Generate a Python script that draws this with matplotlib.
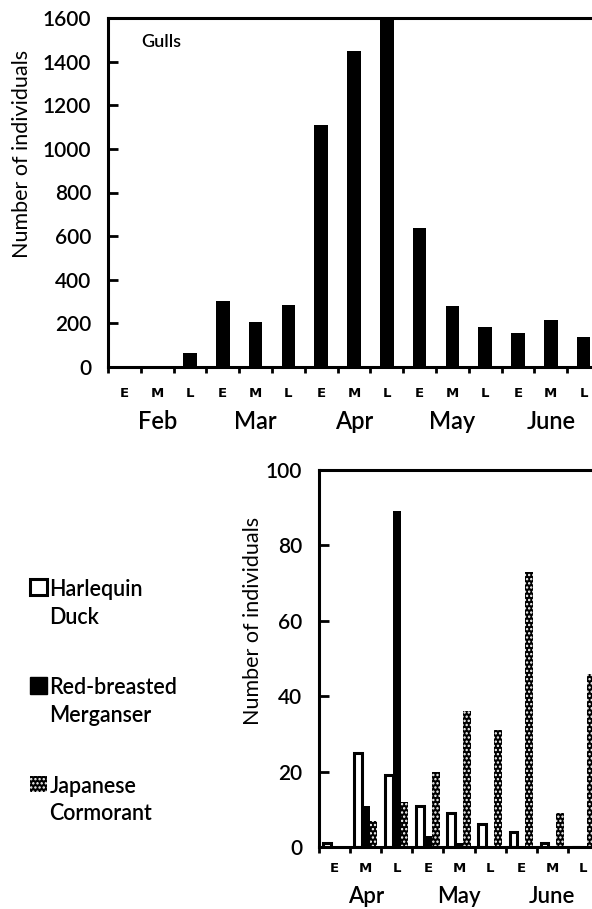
import matplotlib.pyplot as plt
from matplotlib.patches import Patch
import numpy as np

plt.rcParams['font.family'] = ['Lato', 'DejaVu Sans']
plt.rcParams['font.weight'] = 'semibold'
plt.rcParams['hatch.linewidth'] = 1.1

# top panel: gulls, early/mid/late of each month
periods = ['E', 'M', 'L']
gull_months = ['Feb', 'Mar', 'Apr', 'May', 'June']
gulls = [0, 0, 64, 303, 206, 284, 1108, 1448, 1600, 636, 280, 183, 155, 214, 137]

# bottom panel: sea ducks / cormorant
duck_months = ['Apr', 'May', 'June']
harlequin = [1, 25, 19, 11, 9, 6, 4, 1, 0]
merganser = [0, 11, 89, 3, 1, 0, 0, 0, 0]
cormorant = [0, 7, 12, 20, 36, 31, 73, 9, 46]

labels = ['Harlequin\nDuck', 'Red-breasted\nMerganser', 'Japanese\nCormorant']

W, H = 592, 909
fig = plt.figure(figsize=(W / 100, H / 100), dpi=100)


def frac(x0, y0, x1, y1):
    return [x0 / W, 1 - y1 / H, (x1 - x0) / W, (y1 - y0) / H]


def style_axes(ax, months, emL_off, mon_off, mon_size=17):
    n = len(months) * 3
    ax.set_xlim(0, n)
    for s in ['top', 'left', 'bottom']:
        ax.spines[s].set_linewidth(2.2)
    ax.spines['right'].set_visible(False)
    ax.set_xticks(np.arange(n))
    ax.set_xticklabels([])
    ax.tick_params(axis='x', which='major', direction='out', length=4, width=2)
    ax.tick_params(axis='y', direction='in', length=7, width=2, pad=12,
                   labelsize=15)
    centers = np.arange(n) + 0.5
    tr = ax.get_xaxis_transform()
    for i, c in enumerate(centers):
        ax.text(c, emL_off, periods[i % 3], transform=tr, ha='center', va='center',
                fontsize=9.5, fontweight='heavy', family='DejaVu Sans')
    for j, m in enumerate(months):
        ax.text(centers[j * 3 + 1], mon_off, m, transform=tr, ha='center',
                va='baseline', fontsize=mon_size)


# --- gulls
ax1 = fig.add_axes(frac(108, 18, 600, 367))
x1 = np.arange(len(gulls)) + 0.5
ax1.bar(x1, gulls, width=0.42, color='black')
ax1.set_ylim(0, 1600)
ax1.set_yticks(range(0, 1601, 200))
style_axes(ax1, gull_months, -0.075, -0.178)
ax1.set_ylabel('Number of individuals', fontsize=15.5)
ax1.yaxis.set_label_coords(-0.154, 0.61)
ax1.text(0.068, 0.93, 'Gulls', transform=ax1.transAxes, fontsize=13,
         ha='left', va='center')

# --- ducks
ax2 = fig.add_axes(frac(319, 470, 599, 847))
x2 = np.arange(len(harlequin)) + 0.5
bw = 0.25
ax2.bar(x2 - bw, harlequin, width=bw, facecolor='white', edgecolor='black', linewidth=2.2)
ax2.bar(x2, merganser, width=bw, color='black')
ax2.bar(x2 + bw, cormorant, width=bw, facecolor='black', edgecolor='white',
        linewidth=0, hatch='....')
ax2.set_ylim(0, 100)
ax2.set_yticks(range(0, 101, 20))
style_axes(ax2, duck_months, -0.058, -0.148, mon_size=16)
ax2.set_ylabel('Number of individuals', fontsize=15.5)
ax2.yaxis.set_label_coords(-0.2, 0.60)

handles = [Patch(facecolor='white', edgecolor='black', linewidth=2.2),
           Patch(facecolor='black', edgecolor='black'),
           Patch(facecolor='black', edgecolor='white', linewidth=0, hatch='....')]
leg = fig.legend(handles, labels, loc='upper left', bbox_to_anchor=(0.05, 1 - 579 / H),
                 frameon=False, fontsize=15.5, handlelength=0.8, handleheight=0.8,
                 handletextpad=0.12, labelspacing=2.3, borderaxespad=0, borderpad=0)
for t in leg.get_texts():
    t.set_linespacing(1.4)
# put the square next to the first line of each label
for col in leg._legend_handle_box.get_children():
    for item in col.get_children():
        item.align = 'top'

fig.savefig('out.png', dpi=100)
